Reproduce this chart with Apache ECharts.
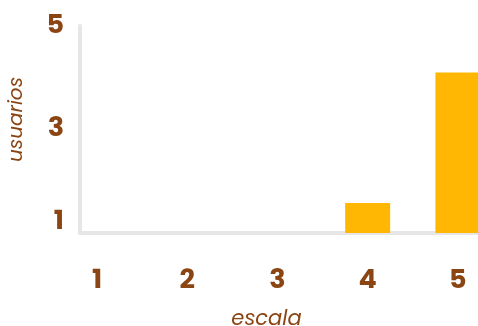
<!DOCTYPE html>
<html>
<head>
<meta charset="utf-8">
<script src="https://cdn.jsdelivr.net/npm/echarts@6/dist/echarts.min.js"></script>
<style>
  html, body { margin: 0; padding: 0; background: #ffffff; }
  #chart { width: 478px; height: 326px; }
</style>
</head>
<body>
<div id="chart"></div>
<script>
// Scale points (x) and number of users (y)
const escala = [1, 2, 3, 4, 5];
const usuarios = [0, 0, 0, 1.58, 4.1];
const yTicks = [1, 3, 5];

const brown = '#8B4513';
const amber = '#FFB703';
const axisGrey = '#e6e6e6';
const font = 'Poppins, Inter, Lato, sans-serif';

const chart = echarts.init(document.getElementById('chart'), null, { renderer: 'canvas' });

chart.setOption({
  animation: false,
  backgroundColor: '#ffffff',
  grid: {
    left: 80, right: -25, top: 26, bottom: 93,
    containLabel: false, outerBoundsMode: 'none'
  },
  xAxis: {
    type: 'value',
    min: 0.812,
    max: 5.5,
    name: 'escala',
    nameLocation: 'middle',
    nameGap: 76,
    nameTextStyle: {
      color: brown, fontFamily: font,
      fontStyle: 'italic', fontSize: 21, padding: [0, 50, 0, 0]
    },
    axisLine: { show: true, lineStyle: { color: axisGrey, width: 4 } },
    axisTick: { show: false },
    splitLine: { show: false },
    axisLabel: {
      showMinLabel: false, showMaxLabel: false,
      margin: 35,
      color: brown, fontFamily: font,
      fontWeight: 'bold', fontSize: 27,
      formatter: v => (escala.indexOf(v) >= 0 ? String(v) : '')
    }
  },
  yAxis: {
    type: 'value',
    min: yTicks[0],
    max: yTicks[yTicks.length - 1],
    interval: 2,
    name: 'usuarios',
    nameLocation: 'middle',
    nameGap: 53,
    nameRotate: 90,
    nameTextStyle: {
      color: brown, fontFamily: font,
      fontStyle: 'italic', fontSize: 20, padding: [0, 0, 0, 20]
    },
    axisLine: { show: true, lineStyle: { color: axisGrey, width: 4 } },
    axisTick: { show: false },
    splitLine: { show: false },
    axisLabel: {
      margin: 16,
      lineHeight: 22,
      verticalAlignMinLabel: 'bottom',
      color: brown, fontFamily: font,
      fontWeight: 'bold', fontSize: 27
    }
  },
  series: [{
    type: 'bar',
    barWidth: 45,
    itemStyle: { color: amber },
    data: escala.map((e, i) => [e, usuarios[i]])
  }]
});
</script>
</body>
</html>
